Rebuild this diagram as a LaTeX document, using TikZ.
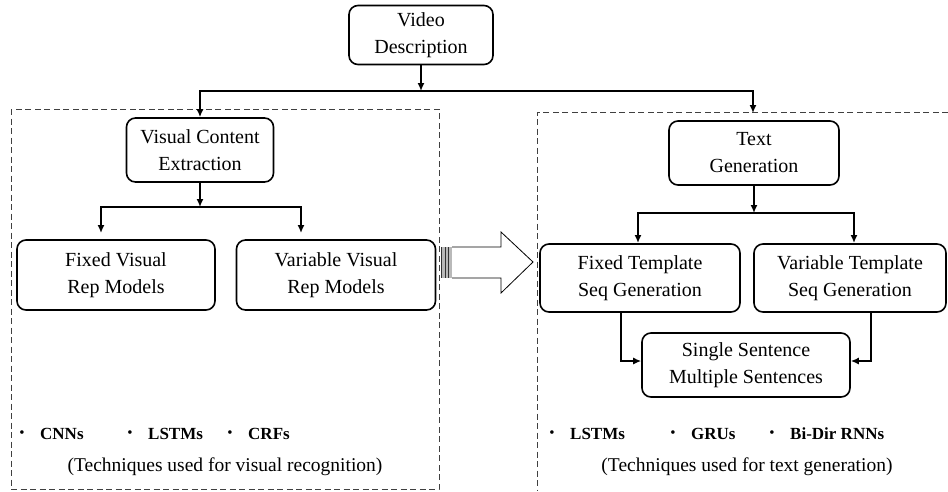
\documentclass[tikz,border=0pt]{standalone}
\usepackage{fontspec}
\setmainfont{Liberation Serif}
\usetikzlibrary{arrows.meta}

\tikzset{
    block/.style={draw, line width=1.6pt, rounded corners=9pt, align=center,
        inner sep=0pt, font=\fontsize{20}{27}\selectfont},
    link/.style={line width=1.5pt, -{Latex[length=8pt,width=7pt]}},
    group/.style={draw=black!75, dash pattern=on 6pt off 3.5pt, line width=0.9pt},
    tech/.style={anchor=west, inner sep=0pt, font=\fontsize{17}{20}\selectfont\bfseries},
    dot/.style={inner sep=0pt, font=\fontsize{15}{18}\selectfont},
    note/.style={inner sep=0pt, font=\fontsize{19.5}{22}\selectfont}
}

\begin{document}
\begin{tikzpicture}[x=1pt, y=-1pt]
    \useasboundingbox (0,0) rectangle (948,491);

    % Draw the dashed groups
    \draw[group] (11,109) rectangle (439,489);
    \draw[group] (948,112) -- (537,112) -- (537,491);

    % Draw the boxes
    \node[block, minimum width=144pt, minimum height=59pt] (video) at (421,35) {Video\\Description};
    \node[block, minimum width=147pt, minimum height=64pt] (visual) at (200,150) {Visual Content\\Extraction};
    \node[block, minimum width=198pt, minimum height=70pt] (fixedrep) at (116,275) {Fixed Visual\\Rep Models};
    \node[block, minimum width=199pt, minimum height=70pt] (varrep) at (336,275) {Variable Visual\\Rep Models};
    \node[block, minimum width=170pt, minimum height=64pt] (textgen) at (754,153) {Text\\Generation};
    \node[block, minimum width=200pt, minimum height=68pt] (fixedseq) at (640,278) {Fixed Template\\Seq Generation};
    \node[block, minimum width=192pt, minimum height=68pt] (varseq) at (850,278) {Variable Template\\Seq Generation};
    \node[block, minimum width=208pt, minimum height=64pt] (sentence) at (746,365) {Single Sentence\\Multiple Sentences};

    % Split points of the connectors
    \coordinate (topsplit) at (421,91);
    \coordinate (textin) at (753,113);
    \coordinate (visplit) at (200,207);
    \coordinate (fixedin) at (101,233);
    \coordinate (varin) at (301,233);
    \coordinate (txsplit) at (754,213);
    \coordinate (fseqin) at (638,243);
    \coordinate (vseqin) at (854,243);

    % Draw the connectors
    \draw[link] (video.south) -- (topsplit);
    \draw[link] (topsplit) -| (visual.north);
    \draw[link] (topsplit) -| (textin);
    \draw[link] (visual.south) -- (visplit);
    \draw[link] (visplit) -| (fixedin);
    \draw[link] (visplit) -| (varin);
    \draw[link] (textgen.south) -- (txsplit);
    \draw[link] (txsplit) -| (fseqin);
    \draw[link] (txsplit) -| (vseqin);
    \draw[link] ([xshift=-19pt]fixedseq.south) |- ([yshift=4pt]sentence.west);
    \draw[link] ([xshift=21pt]varseq.south) |- ([yshift=4pt]sentence.east);

    % Draw the hollow arrow between the groups
    \fill[gray!55] (441,247) rectangle (452,278);
    \foreach \x in {441.5,445,448.5} {
        \draw[line width=1pt, black!80] (\x,247) -- (\x,278);
    }
    \draw[line width=0.8pt, fill=white] (452,247) -- (501,247) -- (501,232) -- (533,262)
        -- (501,293) -- (501,278) -- (452,278);

    % Techniques of each group
    \foreach \x/\name/\label in {22/cnn/CNNs, 130/lstmv/LSTMs, 230/crf/CRFs, 552/lstmt/LSTMs, 673/gru/GRUs, 772/birnn/Bi-Dir RNNs} {
        \node[dot] at (\x,434) {\textbullet};
        \node[tech] (\name) at (\x+18,434) {\label};
    }
    \node[note] (visnote) at (225,467) {(Techniques used for visual recognition)};
    \node[note] (txtnote) at (747,467) {(Techniques used for text generation)};
\end{tikzpicture}
\end{document}
